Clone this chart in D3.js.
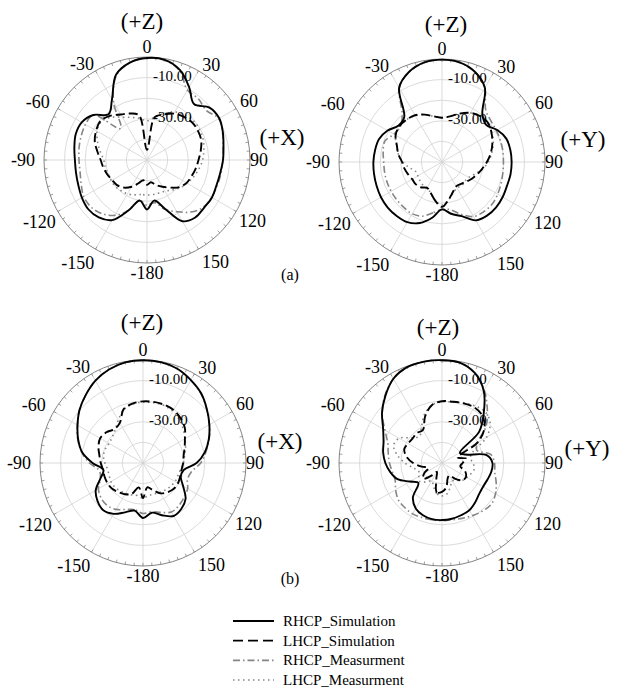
<!DOCTYPE html>
<html>
<head>
<meta charset="utf-8">
<script src="https://cdn.jsdelivr.net/npm/d3@7"></script>
<style>
body{margin:0;background:#fff;}
svg{display:block;}
text{font-family:"Liberation Serif","Times New Roman",serif;fill:#000;}
</style>
</head>
<body>
<svg id="chart" width="617" height="689"></svg>
<script>
//Angles in degrees, 0 = +Z, positive clockwise
const angles = [-180,-170,-160,-150,-140,-130,-120,-110,-100,-90,-80,-70,-60,-50,-40,-30,-20,-10,
                0,10,20,30,40,50,60,70,80,90,100,110,120,130,140,150,160,170];

//Tick labels
const angleTicks = [0,30,60,90,120,150,180,-150,-120,-90,-60,-30];
const ringLevels = [-40,-30,-20,-10];
const ringLabels = [-10,-30];
const legendNames = ["RHCP_Simulation","LHCP_Simulation","RHCP_Measurment","LHCP_Measurment"];

//(a) X-Z plane, gain in dB
const p1RhcpSim  = [-26,-30,-24,-16.3,-13.6,-12.8,-13.5,-14.5,-15,-15,-14.2,-13.2,-13.4,-16,-21,-16,-6,-2,-0.5,-0.6,-3.4,-9.1,-14.5,-10.4,-9.5,-10.8,-12.3,-13.1,-13.9,-14.1,-13.6,-13.9,-13.6,-15.7,-25,-30];
const p1LhcpSim  = [-38,-40,-38,-35,-32.5,-31,-30.5,-29.5,-28.5,-27.5,-25.5,-23,-21.5,-20.5,-22,-24.5,-26,-28,-45,-29,-26.5,-24,-22.5,-21.5,-21.5,-22,-23.5,-25,-26,-27,-27.8,-29.5,-32.5,-35,-37,-39];
const p1RhcpMeas = [-28,-30,-24,-19,-16,-14.5,-14.5,-16,-17,-17,-16.5,-16,-15.5,-16,-30,-17.5,-6.5,-2,-0.5,-0.8,-3.8,-10.8,-11.2,-12.5,-9.8,-11,-12.5,-13.2,-13.5,-13.7,-13.8,-14.3,-17,-21,-24.5,-29];
const p1LhcpMeas = [-33,-33,-32,-31,-30.5,-30,-30,-30,-29.5,-29,-27,-24.5,-22,-21,-23,-26,-28,-29.5,-31,-29,-26,-23,-21.5,-20.5,-20.5,-21,-22,-23,-24.5,-26,-27.5,-29,-31,-32.5,-33,-33];

//(a) Y-Z plane
const p2RhcpSim  = [-27,-22.5,-18.5,-16.3,-15.8,-15.6,-15.8,-16.2,-16.5,-16.7,-17,-17.5,-19.5,-22.5,-21.5,-8.4,-3.4,-0.9,-0.3,-0.9,-3.4,-8.4,-19.5,-22,-19,-16.8,-16.3,-16.2,-16.2,-16.4,-16,-15.7,-16,-17.3,-22,-24.5];
const p2LhcpSim  = [-28.2,-31,-34,-35.5,-34,-33.3,-33.3,-32.5,-31.5,-30.6,-28.5,-26.7,-24,-23,-23.2,-23.8,-25.5,-27.5,-28.5,-27.5,-25,-22.5,-21,-20.7,-22.2,-24,-26,-28.2,-30.3,-32,-33.5,-35,-36,-36.3,-34.5,-31.5];
const p2RhcpMeas = [-27,-25,-22,-21,-21.2,-21.4,-21.5,-21.6,-21.7,-21.7,-21,-20.5,-23,-23.5,-20,-8.6,-3.5,-1,-0.4,-1,-3.5,-8.5,-17,-19,-19.5,-19.8,-20,-20.2,-20,-19.5,-18.8,-18.2,-18.5,-19.4,-23,-26.5];
const p2LhcpMeas = [-29,-31,-34,-35.5,-35.5,-36,-36.5,-36.5,-34,-31,-28.5,-26.5,-24,-23,-23.2,-24,-25.5,-27.5,-28.5,-27.5,-25,-22.5,-21,-21,-22,-23.5,-25.5,-27.5,-30,-33,-35,-35.5,-35,-35.5,-34,-31.5];

//(b) X-Z plane
const p3RhcpSim  = [-23.3,-26.5,-24.5,-21.5,-20,-21.2,-23.5,-28,-30.5,-25.5,-20,-16.5,-13.3,-9.8,-6.8,-3.8,-1.7,-0.4,-0.1,-0.3,-1.3,-3.5,-6,-9.5,-12.8,-16,-19.5,-24,-30,-30.5,-27.5,-23,-21,-20.3,-23,-25.5];
const p3LhcpSim  = [-33,-38,-34,-32.5,-31.5,-30.5,-30.2,-30.2,-30.3,-29.5,-28.5,-27,-26,-26.8,-28.5,-27.5,-22.3,-20.7,-20.1,-19.9,-19.9,-20.3,-21.6,-23.5,-26.5,-28.5,-30,-30.5,-31,-30.8,-30.4,-30.5,-31.5,-33,-36,-38];
const p3RhcpMeas = [-25.5,-27,-26,-24,-23,-23.5,-25,-28,-28.5,-24,-19.8,-16.3,-13.2,-9.8,-6.8,-3.8,-1.7,-0.5,-0.2,-0.4,-1.4,-3.6,-6.2,-9.6,-12.8,-15.8,-19,-22,-26,-27,-25,-24,-23,-22.5,-24.5,-26];
const p3LhcpMeas = [-33,-34,-33.5,-33,-32.5,-32,-32,-32.5,-32.5,-31.5,-30.5,-30.5,-31,-30.5,-29,-26,-22.5,-21,-20.5,-20.3,-20.3,-21,-22.5,-24.5,-26.5,-28,-29.5,-30.5,-31.5,-32,-32,-32.5,-33,-33.5,-34,-34];

//(b) Y-Z plane
const p4RhcpSim  = [-22.3,-22.3,-23,-24.5,-28,-35,-32,-27,-24.5,-22.5,-21,-19.8,-17,-12,-7.3,-2.8,-0.5,0,-0.1,-0.5,-3.5,-9.5,-18.5,-26.5,-40,-38,-28,-25.5,-25.7,-26.5,-27,-26.5,-25,-23.5,-23,-22.5];
const p4LhcpSim  = [-36,-35.5,-42,-45,-42,-38,-40,-43,-40,-36,-32.5,-30.5,-31,-31.4,-31,-31.5,-26,-21.5,-20,-19.8,-19.2,-18.8,-19.7,-23,-30,-42,-38,-40,-41,-38,-36.5,-37,-40,-43,-42,-38];
const p4RhcpMeas = [-22,-22,-21.8,-21.5,-21.8,-22.3,-24,-25.8,-25.5,-24.5,-23.5,-22,-18,-12,-7,-2.8,-0.6,-0.1,-0.2,-0.6,-3.5,-9,-15.8,-22,-30,-32,-26,-24.5,-24,-22,-20,-18.8,-19.5,-20.5,-21.4,-22];
const p4LhcpMeas = [-34,-35,-38,-40,-38,-36,-37,-38,-36,-32,-28,-25,-26,-31,-33,-30,-25,-21.5,-20.3,-20,-19,-18,-17.5,-19.5,-25,-34,-36,-35,-34,-35,-36,-37,-39,-40,-38,-35];

//Line styles, in legend order
const styles = [
    {stroke:"#000", width:1.9, dash:null},
    {stroke:"#000", width:1.9, dash:"9,4"},
    {stroke:"#858585", width:1.6, dash:"7,3,1.5,3"},
    {stroke:"#858585", width:1.6, dash:"1.5,3.5"}
];

//small shifts of the angle labels, as the plotting tool placed them
const labelNudge = {"30":[6,6], "-30":[-6,6], "150":[9,-1], "-150":[-9,-1], "90":[-4,0], "-90":[-5,0], "-60":[-5,2]};

const panels = [
    {cx:147, cy:160, series:[p1RhcpSim,p1LhcpSim,p1RhcpMeas,p1LhcpMeas], top:[142,29], side:"(+X)", sidePos:[282,145], tag:"(a)", tagPos:[290,280]},
    {cx:442, cy:162, series:[p2RhcpSim,p2LhcpSim,p2RhcpMeas,p2LhcpMeas], top:[446,32], side:"(+Y)", sidePos:[583,147]},
    {cx:143, cy:463, series:[p3RhcpSim,p3LhcpSim,p3RhcpMeas,p3LhcpMeas], top:[142,330], side:"(+X)", sidePos:[280,449], tag:"(b)", tagPos:[290,584]},
    {cx:442, cy:463, series:[p4RhcpSim,p4LhcpSim,p4RhcpMeas,p4LhcpMeas], top:[438,335], side:"(+Y)", sidePos:[587,456]}
];

const R = 103;
const svg = d3.select("#chart");

//Radius scale: -50 dB at centre, 0 dB at the outer circle
const rScale = d3.scaleLinear().domain([-50,0]).range([0,R]).clamp(true);
const rad = (d)=>d*Math.PI/180;

const line = d3.lineRadial()
    .angle((d,i)=>rad(angles[i]))
    .radius((d)=>rScale(d))
    .curve(d3.curveCatmullRomClosed.alpha(0.5));

function drawPanel(p){
    const g = svg.append("g").attr("transform","translate("+p.cx+","+p.cy+")");

    //grid rings
    g.selectAll(".ring").data(ringLevels).enter().append("circle")
        .attr("r",(d)=>rScale(d))
        .attr("fill","none")
        .attr("stroke","#d2d2d2")
        .attr("stroke-width",0.8);

    //spokes every 30 deg
    g.selectAll(".spoke").data(angleTicks).enter().append("line")
        .attr("x1",0).attr("y1",0)
        .attr("x2",(d)=>R*Math.sin(rad(d)))
        .attr("y2",(d)=>-R*Math.cos(rad(d)))
        .attr("stroke","#d2d2d2")
        .attr("stroke-width",0.8);

    //outer circle with small inward ticks
    g.append("circle").attr("r",R).attr("fill","none").attr("stroke","#777").attr("stroke-width",0.9);
    g.selectAll(".tick").data(d3.range(0,360,5)).enter().append("line")
        .attr("x1",(d)=>R*Math.sin(rad(d)))
        .attr("y1",(d)=>-R*Math.cos(rad(d)))
        .attr("x2",(d)=>(R-3)*Math.sin(rad(d)))
        .attr("y2",(d)=>-(R-3)*Math.cos(rad(d)))
        .attr("stroke","#777")
        .attr("stroke-width",0.7);

    //curves, measurements first so simulations sit on top
    [2,3,0,1].forEach(function(k){
        g.append("path")
            .attr("d",line(p.series[k]))
            .attr("fill","none")
            .attr("stroke",styles[k].stroke)
            .attr("stroke-width",styles[k].width)
            .attr("stroke-dasharray",styles[k].dash);
    });

    //ring labels
    g.selectAll(".rlab").data(ringLabels).enter().append("text")
        .attr("x",6)
        .attr("y",(d)=>-rScale(d)+3)
        .style("font-size","15px")
        .text((d)=>d.toFixed(2));

    //angle labels
    g.selectAll(".alab").data(angleTicks).enter().append("text")
        .attr("text-anchor","middle")
        .attr("dominant-baseline","central")
        .style("font-size","18px")
        .text((d)=>d===180 ? "-180" : String(d))
        .each(function(d){
            const w = this.getComputedTextLength();
            const s = Math.sin(rad(d)), c = Math.cos(rad(d));
            const r = 107 + w/2*Math.abs(s) + 6*Math.abs(c);
            const n = labelNudge[String(d)] || [0,0];
            d3.select(this).attr("x",r*s+n[0]).attr("y",-r*c+n[1]);
        });

    //axis names
    svg.append("text").attr("x",p.top[0]).attr("y",p.top[1])
        .attr("text-anchor","middle").style("font-size","23px").text("(+Z)");
    svg.append("text").attr("x",p.sidePos[0]).attr("y",p.sidePos[1])
        .attr("text-anchor","middle").style("font-size","23px").text(p.side);
    if(p.tag){
        svg.append("text").attr("x",p.tagPos[0]).attr("y",p.tagPos[1])
            .attr("text-anchor","middle").style("font-size","16px").text(p.tag);
    }
}

panels.forEach(drawPanel);

//Legend
const legendY = d3.scalePoint().domain(legendNames).range([621,680]);
const lg = svg.append("g");
legendNames.forEach(function(name,k){
    lg.append("line")
        .attr("x1",233).attr("x2",274)
        .attr("y1",legendY(name)).attr("y2",legendY(name))
        .attr("stroke",styles[k].stroke)
        .attr("stroke-width",styles[k].width)
        .attr("stroke-dasharray",k===1 ? "10,5" : styles[k].dash);
    lg.append("text")
        .attr("x",283)
        .attr("y",legendY(name)+5)
        .style("font-size","15px")
        .text(name);
});
</script>
</body>
</html>
